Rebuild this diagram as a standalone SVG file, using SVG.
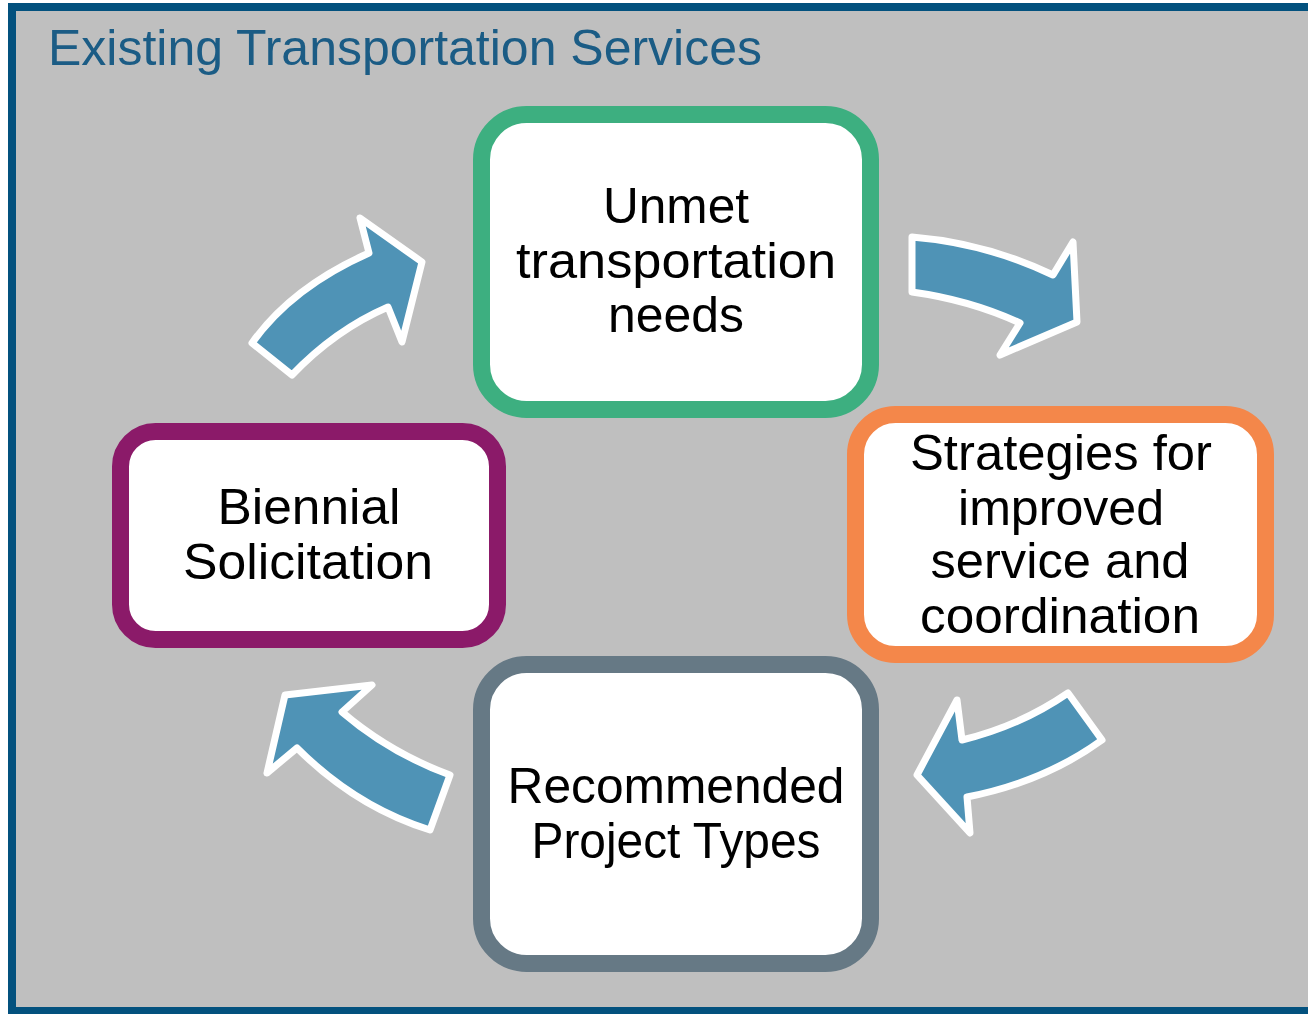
<svg xmlns="http://www.w3.org/2000/svg" width="1308" height="1014" viewBox="0 0 1308 1014">
<style>
.box{fill:#ffffff;stroke-width:17}
.lbl{font-family:"Liberation Sans",Arial,sans-serif;font-size:50px;fill:#000;text-anchor:middle}
.arr{fill:#4f93b6;stroke:#ffffff;stroke-width:7;stroke-linejoin:round}
</style>
<rect x="0" y="0" width="1308" height="1014" fill="#ffffff"/>
<rect x="12" y="7" width="1310" height="1004" fill="#bfbfbf" stroke="#03517e" stroke-width="8"/>
<text x="48" y="65" font-family="Liberation Sans,Arial,sans-serif" font-size="50" fill="#1b5c85" textLength="714" lengthAdjust="spacingAndGlyphs">Existing Transportation Services</text>
<g id="connectors">
<path class="arr" d="M252,343 Q292,287 369,253 L360,218 L422,262 L402,342 L388,307 Q335,330 292,375 Z"/>
<path class="arr" d="M912,237 Q986,243 1053,275 L1073,242 L1077,322 L1000,355 L1020,323 Q970,300 912,292 Z"/>
<path class="arr" d="M1068,693 Q1020,726 962,740 L957,700 L917,775 L970,833 L967,797 Q1044,782 1102,740 Z"/>
<path class="arr" d="M450,775 Q390,753 342,712 L372,685 L285,695 L267,773 L297,748 Q356,807 430,830 Z"/>
</g>
<g id="node-unmet">
<rect class="box" x="481.5" y="114.5" width="389" height="295" rx="45" stroke="#3daf80"/>
<text class="lbl" x="676" y="223" textLength="146" lengthAdjust="spacingAndGlyphs">Unmet</text>
<text class="lbl" x="676" y="278" textLength="320" lengthAdjust="spacingAndGlyphs">transportation</text>
<text class="lbl" x="676" y="332" textLength="136" lengthAdjust="spacingAndGlyphs">needs</text>
</g>
<g id="node-strategies">
<rect class="box" x="855.5" y="414.5" width="410" height="240" rx="40" stroke="#f4874a"/>
<text class="lbl" x="1061" y="470" textLength="302" lengthAdjust="spacingAndGlyphs">Strategies for</text>
<text class="lbl" x="1061" y="525" textLength="206" lengthAdjust="spacingAndGlyphs">improved</text>
<text class="lbl" x="1060" y="578" textLength="259" lengthAdjust="spacingAndGlyphs">service and</text>
<text class="lbl" x="1060" y="633" textLength="280" lengthAdjust="spacingAndGlyphs">coordination</text>
</g>
<g id="node-recommended">
<rect class="box" x="481.5" y="664.5" width="389" height="299" rx="45" stroke="#667985"/>
<text class="lbl" x="676" y="803" textLength="337" lengthAdjust="spacingAndGlyphs">Recommended</text>
<text class="lbl" x="676" y="858" textLength="289" lengthAdjust="spacingAndGlyphs">Project Types</text>
</g>
<g id="node-biennial">
<rect class="box" x="120.5" y="431.5" width="377" height="208" rx="35" stroke="#8b1a69"/>
<text class="lbl" x="309" y="524" textLength="183" lengthAdjust="spacingAndGlyphs">Biennial</text>
<text class="lbl" x="308" y="579" textLength="250" lengthAdjust="spacingAndGlyphs">Solicitation</text>
</g>
</svg>
